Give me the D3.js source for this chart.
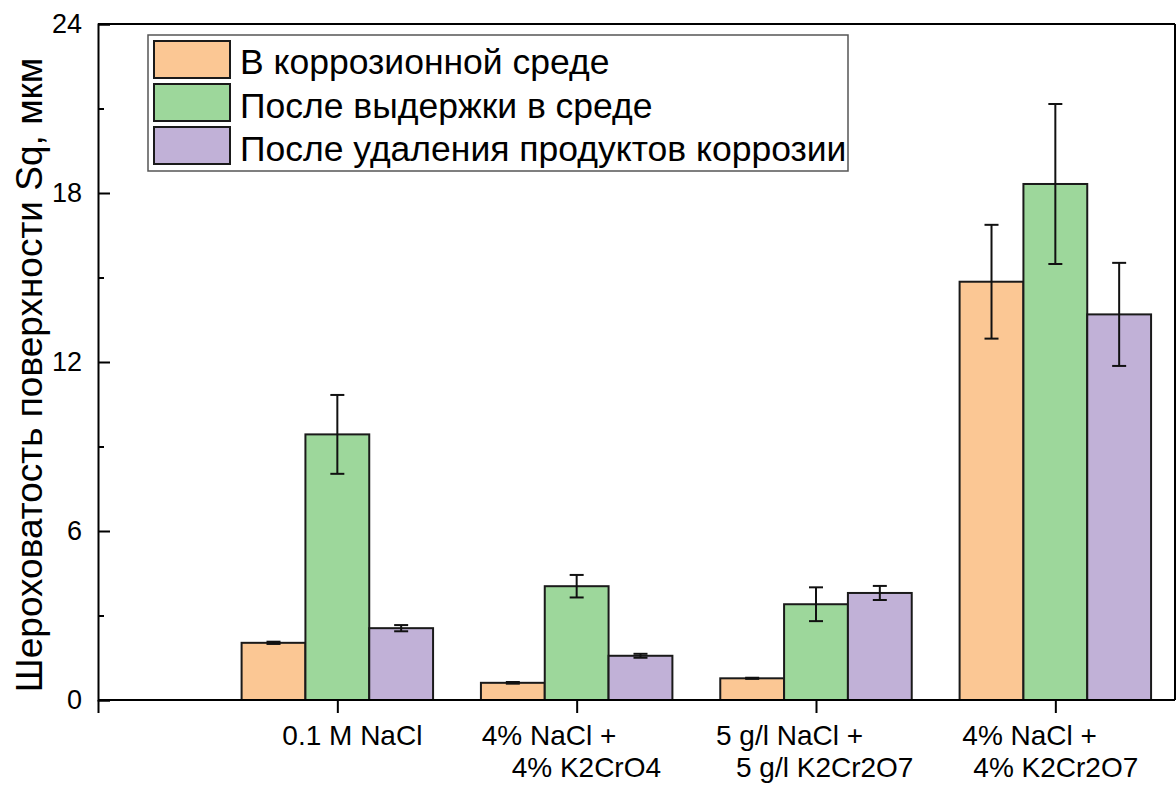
<!DOCTYPE html>
<html>
<head>
<meta charset="utf-8">
<script src="https://cdn.jsdelivr.net/npm/d3@7"></script>
<style>
  html, body { margin: 0; padding: 0; background: #fff; }
  svg { display: block; }
  text { font-family: "Liberation Sans", Arial, sans-serif; fill: #000; }
</style>
</head>
<body>
<svg id="chart" width="1176" height="785"></svg>
<script>
// ---- data ----
const categories = ["0.1 M NaCl", "4% NaCl + 4% K2CrO4", "5 g/l NaCl + 5 g/l K2Cr2O7", "4% NaCl + 4% K2Cr2O7"];
const categoryLines = [
  ["0.1 M NaCl"],
  ["4% NaCl +", "4% K2CrO4"],
  ["5 g/l NaCl +", "5 g/l K2Cr2O7"],
  ["4% NaCl +", "4% K2Cr2O7"]
];
const seriesNames = ["В коррозионной среде", "После выдержки в среде", "После удаления продуктов коррозии"];
const valuesInMedium   = [2.03, 0.61, 0.77, 14.85];
const errInMedium      = [0.04, 0.03, 0.02, 2.02];
const valuesAfterHold  = [9.43, 4.04, 3.40, 18.32];
const errAfterHold     = [1.40, 0.40, 0.60, 2.84];
const valuesAfterClean = [2.55, 1.57, 3.80, 13.69];
const errAfterClean    = [0.11, 0.07, 0.25, 1.83];
const yTicks = [0, 6, 12, 18, 24];
const yMinorTicks = [3, 9, 15, 21];
const yTitle = "Шероховатость поверхности Sq, мкм";

// ---- layout / style ----
const colors = ["#fbc794", "#9dd79b", "#c1b1d7"];
const labelOffsets = [[-55], [-95, -65], [-100, -80], [-93, -82]];
const seriesValues = [valuesInMedium, valuesAfterHold, valuesAfterClean];
const seriesErrors = [errInMedium, errAfterHold, errAfterClean];

const pL = 98, pR = 1175, pT = 24, pB = 700;
const svg = d3.select("#chart");

const x = d3.scaleLinear().domain([0, 4.5]).range([pL, pR]);
const y = d3.scaleLinear().domain([0, 24]).range([pB, pT]);
const groupWidth = 0.8;
const inner = d3.scaleBand().domain(d3.range(seriesNames.length)).range([-groupWidth / 2, groupWidth / 2]).padding(0);

// bars
const data = [];
categories.forEach((c, i) => {
  seriesNames.forEach((s, j) => {
    data.push({ ci: i, sj: j, v: seriesValues[j][i], e: seriesErrors[j][i] });
  });
});

const g = svg.append("g");
g.selectAll("rect.bar").data(data).enter().append("rect")
  .attr("class", "bar")
  .attr("x", d => x(d.ci + 1 + inner(d.sj)))
  .attr("width", d => x(d.ci + 1 + inner(d.sj) + inner.bandwidth()) - x(d.ci + 1 + inner(d.sj)))
  .attr("y", d => y(d.v))
  .attr("height", d => y(0) - y(d.v))
  .attr("fill", d => colors[d.sj])
  .attr("stroke", "#1a1a1a")
  .attr("stroke-width", 2);

// error bars
const capHalf = 7;
const eb = g.selectAll("g.err").data(data).enter().append("g").attr("class", "err")
  .attr("stroke", "#111").attr("stroke-width", 2);
const cx = d => x(d.ci + 1 + inner(d.sj) + inner.bandwidth() / 2);
eb.append("line").attr("x1", cx).attr("x2", cx)
  .attr("y1", d => y(d.v + d.e)).attr("y2", d => y(d.v - d.e));
eb.append("line").attr("x1", d => cx(d) - capHalf).attr("x2", d => cx(d) + capHalf)
  .attr("y1", d => y(d.v + d.e)).attr("y2", d => y(d.v + d.e));
eb.append("line").attr("x1", d => cx(d) - capHalf).attr("x2", d => cx(d) + capHalf)
  .attr("y1", d => y(d.v - d.e)).attr("y2", d => y(d.v - d.e));

// frame (top & right)
svg.append("line").attr("x1", pL).attr("x2", pR).attr("y1", pT).attr("y2", pT)
  .attr("stroke", "#000").attr("stroke-width", 2);
svg.append("line").attr("x1", pR).attr("x2", pR).attr("y1", pT).attr("y2", pB)
  .attr("stroke", "#000").attr("stroke-width", 2);

// y axis (ticks inward)
const yAxis = d3.axisLeft(y).tickValues(yTicks).tickSize(-12).tickPadding(16).tickFormat(d3.format("d"));
const ya = svg.append("g").attr("transform", `translate(${pL},0)`).call(yAxis);
ya.select(".domain").attr("stroke", "#000").attr("stroke-width", 2);
ya.selectAll(".tick line").attr("stroke", "#000").attr("stroke-width", 2);
ya.selectAll(".tick text").attr("font-size", 27).attr("font-family", "Liberation Sans, Arial, sans-serif");
const yMinor = d3.axisLeft(y).tickValues(yMinorTicks).tickSize(-6).tickFormat("");
const ym = svg.append("g").attr("transform", `translate(${pL},0)`).call(yMinor);
ym.select(".domain").remove();
ym.selectAll(".tick line").attr("stroke", "#000").attr("stroke-width", 2);

// x axis (ticks outward)
const xAxis = d3.axisBottom(x).tickValues([0, 1, 2, 3, 4]).tickSize(13).tickFormat("");
const xa = svg.append("g").attr("transform", `translate(0,${pB})`).call(xAxis);
xa.select(".domain").attr("stroke", "#000").attr("stroke-width", 2).attr("d", `M${pL},0H${pR}`);
xa.selectAll(".tick line").attr("stroke", "#000").attr("stroke-width", 2);

// x labels
categoryLines.forEach((lines, i) => {
  lines.forEach((t, k) => {
    svg.append("text")
      .attr("x", x(i + 1) + labelOffsets[i][k])
      .attr("y", 745 + k * 32)
      .attr("font-size", 28)
      .text(t);
  });
});

// y title
svg.append("text")
  .attr("transform", `translate(42,375) rotate(-90)`)
  .attr("text-anchor", "middle")
  .attr("font-size", 37)
  .text(yTitle);

// legend
const lg = svg.append("g");
lg.append("rect").attr("x", 148).attr("y", 35).attr("width", 700).attr("height", 136)
  .attr("fill", "#fff").attr("stroke", "#555").attr("stroke-width", 1.5);
seriesNames.forEach((s, j) => {
  lg.append("rect").attr("x", 154).attr("y", 41 + j * 43).attr("width", 76).attr("height", 37)
    .attr("fill", colors[j]).attr("stroke", "#1a1a1a").attr("stroke-width", 2);
  lg.append("text").attr("x", 240).attr("y", 74 + j * 43.5).attr("font-size", 35.5).text(s);
});
</script>
</body>
</html>
